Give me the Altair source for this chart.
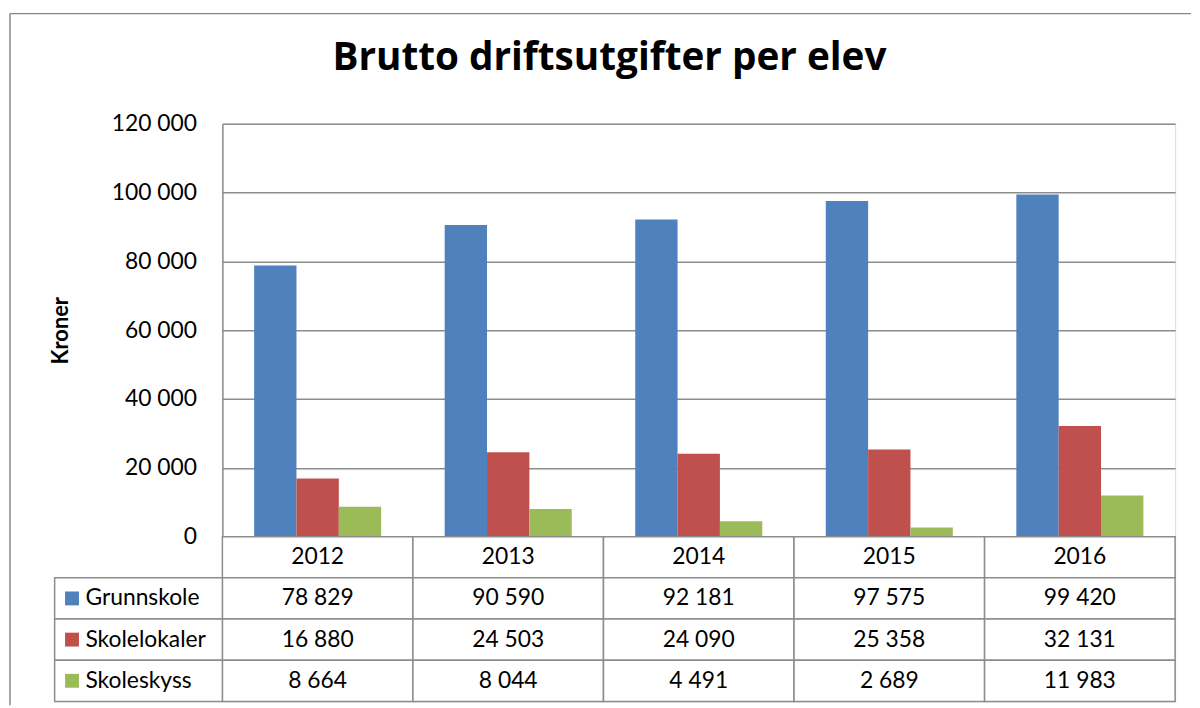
import altair as alt
import pandas as pd

# ---- data ----
years = ["2012", "2013", "2014", "2015", "2016"]
series = ["Grunnskole", "Skolelokaler", "Skoleskyss"]
grunnskole = [78829, 90590, 92181, 97575, 99420]
skolelokaler = [16880, 24503, 24090, 25358, 32131]
skoleskyss = [8664, 8044, 4491, 2689, 11983]
y_ticks = [0, 20000, 40000, 60000, 80000, 100000, 120000]
colors = ["#4F81BD", "#C0504D", "#9BBB59"]

values_by_series = {
    "Grunnskole": grunnskole,
    "Skolelokaler": skolelokaler,
    "Skoleskyss": skoleskyss,
}
long_rows = []
for s in series:
    for y, v in zip(years, values_by_series[s]):
        long_rows.append({"year": y, "series": s, "value": v})
df = pd.DataFrame(long_rows)

header_key = "header"
row_domain = [header_key] + series
header_df = pd.DataFrame({"year": years, "row": [header_key] * len(years)})
cells_df = pd.concat(
    [header_df, df.rename(columns={"series": "row"})[["year", "row"]]],
    ignore_index=True,
)
values_df = df.rename(columns={"series": "row"})
names_df = pd.DataFrame({"row": series})
one = pd.DataFrame({"k": [0]})

FONT = "Lato"
GRID = "#8c8c8c"
PLOT_H = 416
TABLE_H = 166
W = 960

color_scale = alt.Scale(domain=series, range=colors)
table_x = alt.X("year:N", sort=years,
                scale=alt.Scale(domain=years, paddingInner=0, paddingOuter=0),
                axis=None)
table_y = alt.Y("row:N", sort=row_domain,
                scale=alt.Scale(domain=row_domain, range=[PLOT_H, PLOT_H + TABLE_H],
                                paddingInner=0, paddingOuter=0),
                axis=None)

y_axis = alt.Axis(
    values=y_ticks,
    labelExpr="replace(format(datum.value, ','), regexp(',', 'g'), ' ')",
    grid=True, gridColor=GRID, gridWidth=1.5,
    domain=True, domainColor=GRID, domainWidth=1.5,
    ticks=False, labelPadding=26, labelFlush=False, labelBound=False,
    labelFont=FONT, labelFontSize=23, labelColor="black",
    title="Kroner", titleFont=FONT, titleFontSize=22, titleFontWeight="bold",
    titleColor="black", titlePadding=39,
)

bars = alt.Chart(df).mark_bar().encode(
    x=alt.X("year:N", sort=years,
            scale=alt.Scale(domain=years, paddingInner=1/3, paddingOuter=1/6),
            axis=None),
    xOffset=alt.XOffset("series:N", sort=series,
                        scale=alt.Scale(domain=series, paddingInner=0, paddingOuter=0)),
    y=alt.Y("value:Q", scale=alt.Scale(domain=[0, 120000], range=[PLOT_H, 0], nice=False),
            axis=y_axis),
    color=alt.Color("series:N", scale=color_scale, legend=None),
)

cells = alt.Chart(cells_df).mark_rect(fill="white", stroke=GRID, strokeWidth=1.5).encode(
    x=table_x, y=table_y
)

label_cells = alt.Chart(names_df).mark_rect(fill="white", stroke=GRID, strokeWidth=1.5).encode(
    x=alt.value(-169), x2=alt.value(0), y=table_y
)

keys = alt.Chart(names_df).mark_square(size=196, opacity=1, filled=True).encode(
    x=alt.value(-151.5), y=table_y,
    color=alt.Color("row:N", scale=color_scale, legend=None),
)

names = alt.Chart(names_df).mark_text(
    align="left", baseline="middle", font=FONT, fontSize=23, color="black"
).encode(x=alt.value(-138), y=table_y, text="row:N")

header_text = alt.Chart(header_df).mark_text(
    align="center", baseline="middle", font=FONT, fontSize=23, color="black"
).encode(x=table_x, y=table_y, text="year:N")

value_text = alt.Chart(values_df).transform_calculate(
    label="replace(format(datum.value, ','), regexp(',', 'g'), ' ')"
).mark_text(
    align="center", baseline="middle", font=FONT, fontSize=23, color="black"
).encode(x=table_x, y=table_y, text="label:N")

frame_top = alt.Chart(one).mark_rule(color="#868686", strokeWidth=1.5).encode(
    x=alt.value(-214), x2=alt.value(976), y=alt.value(-111)
)
frame_left = alt.Chart(one).mark_rule(color="#868686", strokeWidth=1.5).encode(
    x=alt.value(-214), y=alt.value(-111), y2=alt.value(586)
)

chart = alt.layer(
    bars, cells, label_cells, keys, names, header_text, value_text, frame_top, frame_left
).resolve_scale(
    x="independent", y="independent"
).properties(
    width=W,
    height=PLOT_H + TABLE_H,
    padding={"left": 1, "top": 2, "right": 0, "bottom": 0},
    title=alt.TitleParams(
        text="Brutto driftsutgifter per elev",
        font="Open Sans", fontSize=39, fontWeight="bold", color="black",
        anchor="middle", frame="bounds", baseline="alphabetic",
        offset=-97, dx=9,
    ),
).configure_view(stroke=None).configure(background="white")

chart.save("out.html", embed_options={"renderer": "svg", "actions": False})
